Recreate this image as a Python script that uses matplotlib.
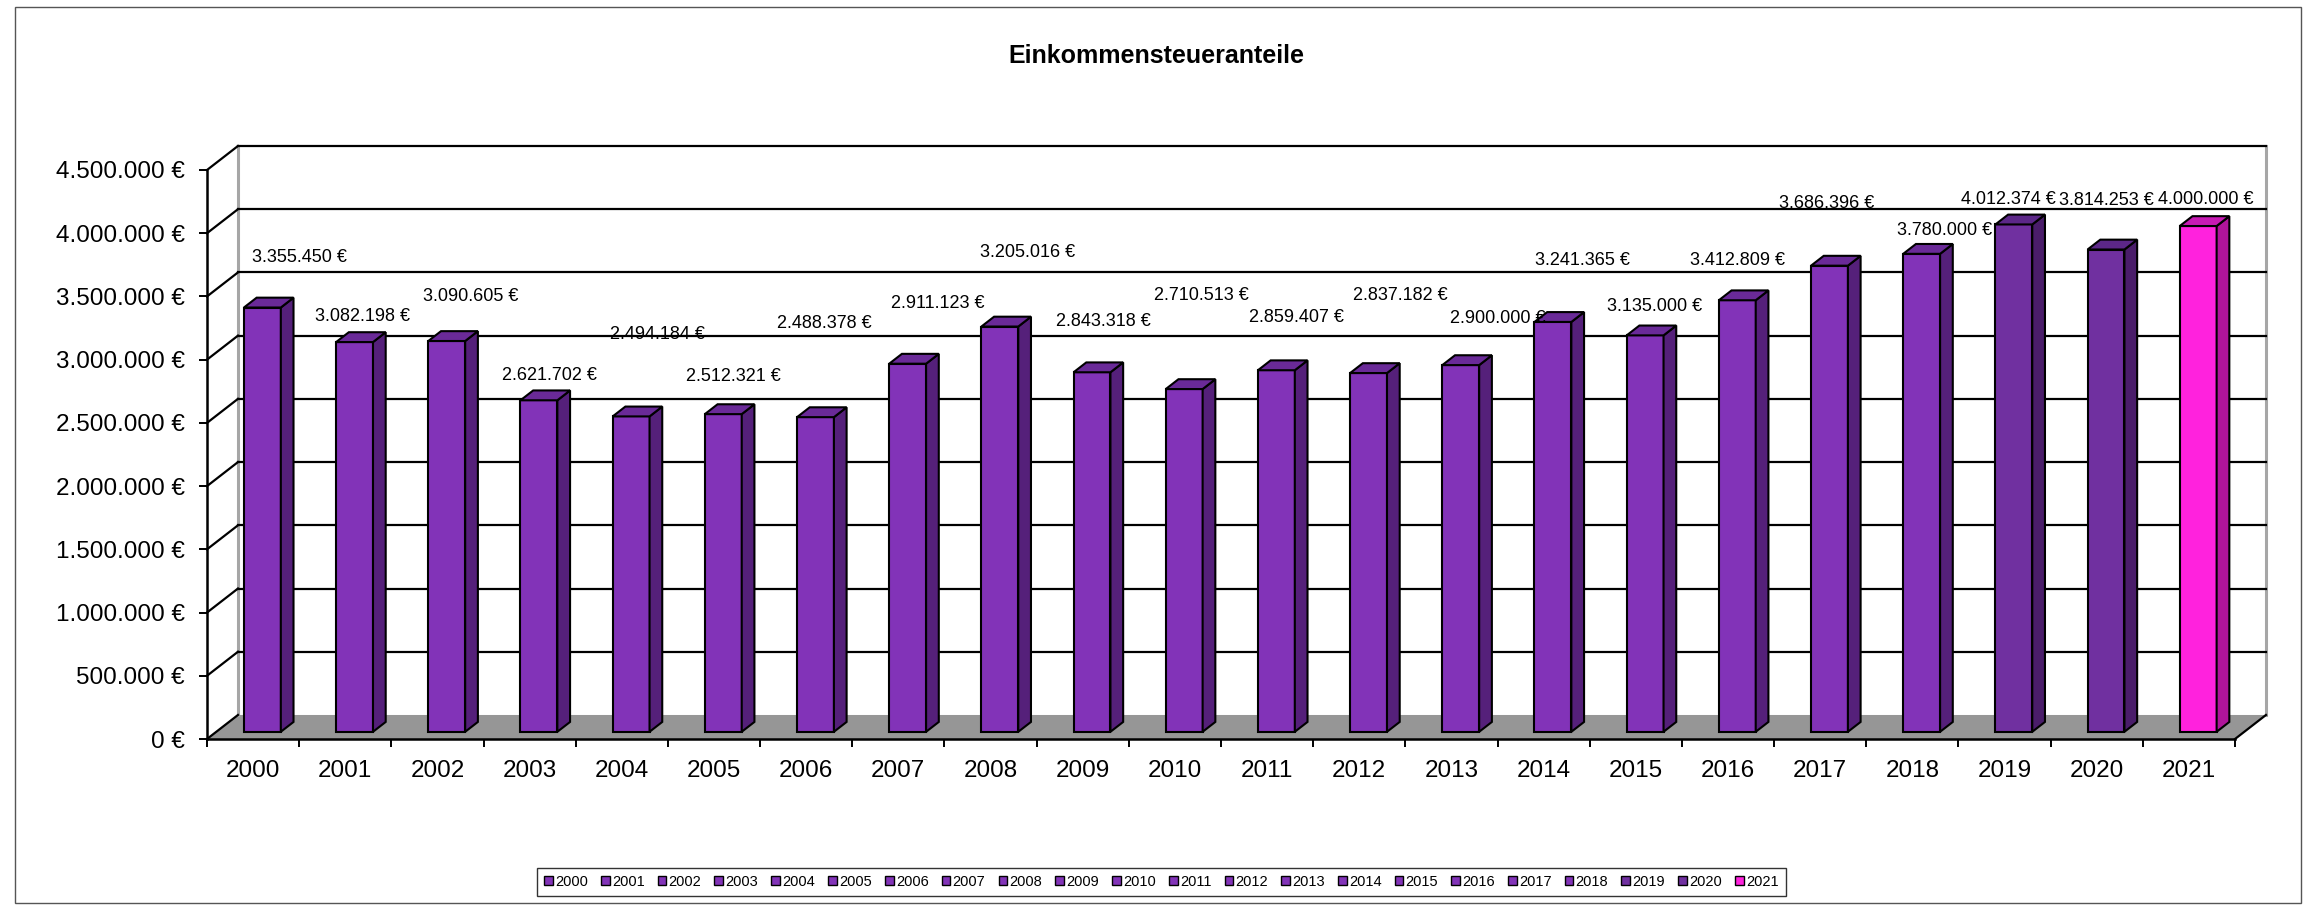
import matplotlib.pyplot as plt
from matplotlib.patches import Polygon, Patch, Rectangle
import numpy as np

# data
years = ['2000', '2001', '2002', '2003', '2004', '2005', '2006', '2007', '2008', '2009', '2010',
         '2011', '2012', '2013', '2014', '2015', '2016', '2017', '2018', '2019', '2020', '2021']
values = [3355450, 3082198, 3090605, 2621702, 2494184, 2512321, 2488378, 2911123, 3205016, 2843318,
          2710513, 2859407, 2837182, 2900000, 3241365, 3135000, 3412809, 3686396, 3780000, 4012374,
          3814253, 4000000]
y_ticks = [0, 500000, 1000000, 1500000, 2000000, 2500000, 3000000, 3500000, 4000000, 4500000]

# where Excel put each data label, relative to the bar top (categories, euro)
label_shift = [(0.50, 451000), (0.19, 263000), (0.36, 406000), (0.22, 253000), (0.39, 707000),
               (0.21, 355000), (0.20, 801000), (0.43, 537000), (0.40, 642000), (0.22, 462000),
               (0.29, 794000), (0.32, 477000), (0.44, 667000), (0.50, 429000), (0.42, 542000),
               (0.20, 282000), (0.10, 370000), (0.07, 550000), (0.35, 242000), (0.04, 256000),
               (0.11, 446000), (0.18, 269000)]

# front, side, top colours
purple = ('#8233B8', '#55207A', '#6A2A98')
purple_dark = ('#7030A0', '#4A1D6A', '#5C2788')
magenta = ('#FF22DD', '#B0149A', '#C81AB4')
bar_colors = [purple] * 19 + [purple_dark] * 2 + [magenta]


def euro(v):
    return f'{v:,.0f}'.replace(',', '.') + ' €'


plt.rcParams['font.family'] = ['Liberation Sans', 'DejaVu Sans']

W_PX, H_PX = 2313, 906
fig = plt.figure(figsize=(W_PX / 100, H_PX / 100), dpi=100)
ax = fig.add_axes([207 / W_PX, 1 - 739 / H_PX, 2028 / W_PX, 569 / H_PX])
ax.patch.set_visible(False)

n = len(years)
ymax = y_ticks[-1]
ax.set_xlim(0, n)
ax.set_ylim(0, ymax)

DX, DY = 0.336, 190000      # depth of the 3d box
F0, BD, W = 0.30, 0.41, 0.40  # bar front depth, bar depth, bar width

# floor
ax.add_patch(Polygon([(0, 0), (n, 0), (n + DX, DY), (DX, DY)], closed=True,
                     facecolor='#969696', edgecolor='none', clip_on=False, zorder=1))
ax.plot([n, n + DX], [0, DY], color='black', lw=1.6, clip_on=False, zorder=2)

# walls
ax.plot([DX, DX], [DY, ymax + DY], color='#a6a6a6', lw=2.2, clip_on=False, zorder=1)
ax.plot([n + DX, n + DX], [DY, ymax + DY], color='#a6a6a6', lw=2.2, clip_on=False, zorder=1)
for v in y_ticks:
    ax.plot([0, DX], [v, v + DY], color='black', lw=1.6, clip_on=False, zorder=2)
    if v > 0:
        ax.plot([DX, n + DX], [v + DY, v + DY], color='black', lw=1.6, clip_on=False, zorder=2)

# bars
x0 = np.arange(n) + 0.5 - W / 2 + F0 * DX
base = F0 * DY
ax.bar(x0, values, width=W, bottom=base, align='edge', color=[c[0] for c in bar_colors],
       edgecolor='black', linewidth=1.5, zorder=3, clip_on=False)
for i, v in enumerate(values):
    xl, xr = x0[i], x0[i] + W
    top = v + base
    ddx, ddy = BD * DX, BD * DY
    ax.add_patch(Polygon([(xr, base), (xr + ddx, base + ddy), (xr + ddx, top + ddy), (xr, top)],
                         closed=True, facecolor=bar_colors[i][1], edgecolor='black', lw=1.5,
                         joinstyle='miter', clip_on=False, zorder=3))
    ax.add_patch(Polygon([(xl, top), (xr, top), (xr + ddx, top + ddy), (xl + ddx, top + ddy)],
                         closed=True, facecolor=bar_colors[i][2], edgecolor='black', lw=1.5,
                         joinstyle='miter', clip_on=False, zorder=3))
    sx, sy = label_shift[i]
    ax.text(i + 0.5 + sx, v + sy, euro(v), ha='center', va='center', fontsize=13, zorder=5)

# axes and ticks
for s in ['top', 'right']:
    ax.spines[s].set_visible(False)
for s in ['left', 'bottom']:
    ax.spines[s].set_linewidth(1.8)
    ax.spines[s].set_zorder(4)
ax.set_yticks(y_ticks, [euro(v) for v in y_ticks])
ax.set_xticks(np.arange(n + 1), [])
ax.set_xticks(np.arange(n) + 0.5, years, minor=True)
ax.tick_params(axis='both', which='major', length=6, width=1.4, direction='out')
ax.tick_params(axis='y', labelsize=17.5, pad=10)
ax.tick_params(axis='x', which='minor', length=0, labelsize=17.5, pad=15)

fig.text(0.5, 1 - 56 / H_PX, 'Einkommensteueranteile', ha='center', va='center',
         fontsize=18, fontweight='bold')

handles = [Patch(facecolor=c[0], edgecolor='black', lw=1) for c in bar_colors]
leg = fig.legend(handles, years, loc='center', bbox_to_anchor=(0.502, 1 - 882 / H_PX), ncol=n,
                 fontsize=10.5, frameon=True, fancybox=False, edgecolor='black',
                 handlelength=0.6, handleheight=0.6, handletextpad=0.15, columnspacing=0.9,
                 borderpad=0.5)
leg.get_frame().set_linewidth(1)

fig.add_artist(Rectangle((15 / W_PX, 3 / H_PX), 2286 / W_PX, 896 / H_PX, transform=fig.transFigure,
                         fill=False, edgecolor='#555555', lw=1))

fig.savefig('out.png', dpi=100)
